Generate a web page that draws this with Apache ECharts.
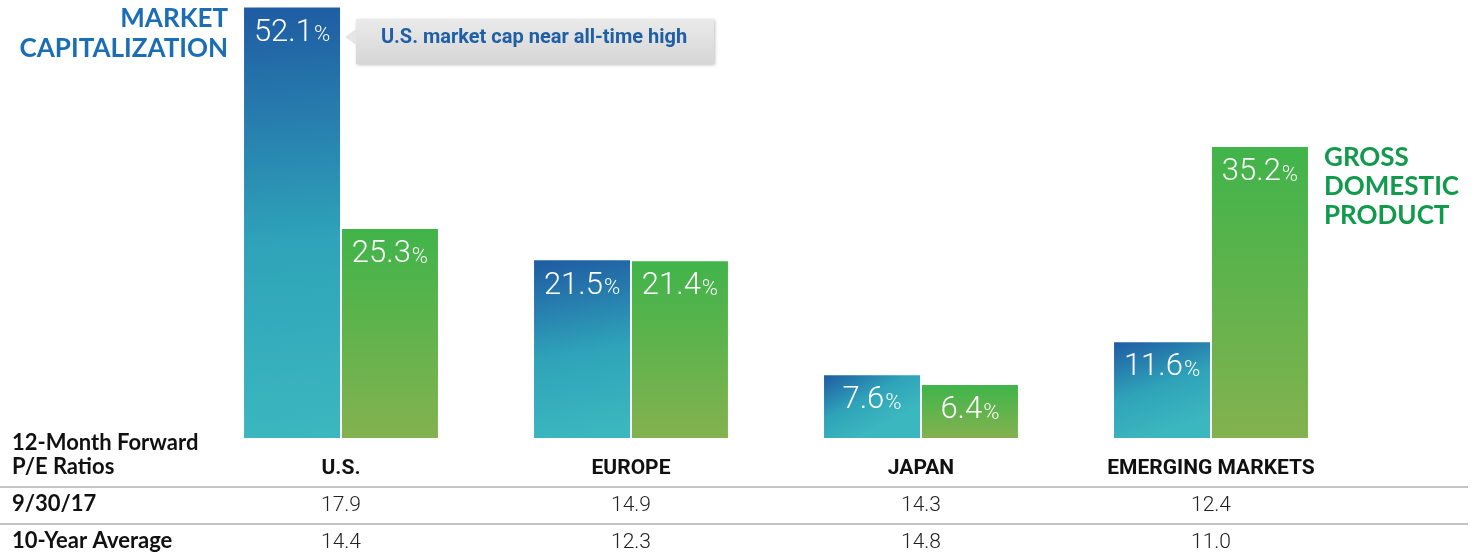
<!DOCTYPE html>
<html>
<head>
<meta charset="utf-8">
<title>Market cap vs GDP</title>
<script src="https://cdn.jsdelivr.net/npm/echarts@6/dist/echarts.min.js"></script>
<style>
  html, body { margin: 0; padding: 0; background: #fff; }
  #main { width: 1484px; height: 558px; }
</style>
</head>
<body>
<div id="main"></div>
<script>
// data
var regions = ['U.S.', 'EUROPE', 'JAPAN', 'EMERGING MARKETS'];
var marketCap = [52.1, 21.5, 7.6, 11.6];
var gdp = [25.3, 21.4, 6.4, 35.2];
var pe0930 = ['17.9', '14.9', '14.3', '12.4'];
var pe10yr = ['14.4', '12.3', '14.8', '11.0'];
var rowLabels = ['9/30/17', '10-Year Average'];

var narrow = "Roboto, sans-serif";
var head = "Lato, 'Noto Sans', sans-serif";

var chart = echarts.init(document.getElementById('main'));

function pctLabel(p) {
    return '{a|' + p.value.toFixed(1) + '}{b|%}';
}
var labelRich = {
    a: { color: '#fff', fontSize: 31, fontFamily: narrow, fontWeight: 300 },
    b: { color: '#fff', fontSize: 22, fontFamily: narrow, fontWeight: 300, padding: [6, 0, 0, 1] }
};

chart.setOption({
    animation: false,
    grid: { left: 196, right: 128, top: 0, bottom: 120 },
    xAxis: {
        type: 'category',
        data: regions,
        axisLine: { show: false },
        axisTick: { show: false },
        axisLabel: {
            margin: 12,
            formatter: function (v, i) {
                return '{n|' + v + '}\n{v|' + pe0930[i] + '}\n{v|' + pe10yr[i] + '}';
            },
            rich: {
                n: { fontSize: 21, fontWeight: 'bold', color: '#111', fontFamily: narrow, lineHeight: 37 },
                v: { fontSize: 21, fontWeight: 300, color: '#222', fontFamily: narrow, lineHeight: 37 }
            }
        }
    },
    yAxis: { type: 'value', min: 0, max: 53, show: false, splitLine: { show: false } },
    series: [
        {
            name: 'Market Capitalization',
            type: 'bar',
            data: marketCap,
            barWidth: 96,
            barGap: '2%',
            itemStyle: {
                color: new echarts.graphic.LinearGradient(0, 0, 0.35, 1, [
                    { offset: 0, color: '#1f5ba3' },
                    { offset: 0.55, color: '#2fa3b9' },
                    { offset: 1, color: '#3bb7bf' }
                ])
            },
            label: { show: true, position: 'insideTop', distance: 10, formatter: pctLabel, rich: labelRich }
        },
        {
            name: 'Gross Domestic Product',
            type: 'bar',
            data: gdp,
            barWidth: 96,
            itemStyle: {
                color: new echarts.graphic.LinearGradient(0, 0, 0, 1, [
                    { offset: 0, color: '#40b44a' },
                    { offset: 1, color: '#83b24f' }
                ])
            },
            label: { show: true, position: 'insideTop', distance: 10, formatter: pctLabel, rich: labelRich }
        }
    ],
    graphic: [
        // series titles
        { type: 'text', x: 228, y: 4, style: { text: 'MARKET\nCAPITALIZATION', fill: '#1b6db5', font: 'bold 26px ' + head, lineHeight: 30, align: 'right' } },
        { type: 'text', x: 1324, y: 143, style: { text: 'GROSS\nDOMESTIC\nPRODUCT', fill: '#119a4b', font: 'bold 26px ' + head, lineHeight: 29 } },
        // callout
        {
            type: 'rect', shape: { x: 356, y: 19, width: 358, height: 45 },
            style: {
                fill: new echarts.graphic.LinearGradient(0, 0, 0, 1, [
                    { offset: 0, color: '#eaeaea' }, { offset: 1, color: '#d6d6d6' }
                ]),
                shadowBlur: 3, shadowColor: 'rgba(0,0,0,0.25)', shadowOffsetX: 1, shadowOffsetY: 1
            }
        },
        { type: 'polygon', shape: { points: [[356, 29], [345, 37], [356, 45]] }, style: { fill: '#e6e6e6' } },
        { type: 'text', x: 534, y: 38, style: { text: 'U.S. market cap near all-time high', fill: '#1f5fa6', font: 'bold 20px ' + narrow, align: 'center', verticalAlign: 'middle' } },
        // table
        { type: 'text', x: 12, y: 431, style: { text: '12-Month Forward\nP/E Ratios', fill: '#111', font: 'bold 22px ' + head, lineHeight: 24 } },
        { type: 'line', shape: { x1: 0, y1: 487, x2: 1468, y2: 487 }, style: { stroke: '#c4c4c4', lineWidth: 2 } },
        { type: 'line', shape: { x1: 0, y1: 524, x2: 1468, y2: 524 }, style: { stroke: '#c4c4c4', lineWidth: 2 } },
        { type: 'text', x: 12, y: 493, style: { text: rowLabels[0], fill: '#111', font: 'bold 22px ' + head } },
        { type: 'text', x: 12, y: 530, style: { text: rowLabels[1], fill: '#111', font: 'bold 22px ' + head } }
    ]
});
</script>
</body>
</html>
